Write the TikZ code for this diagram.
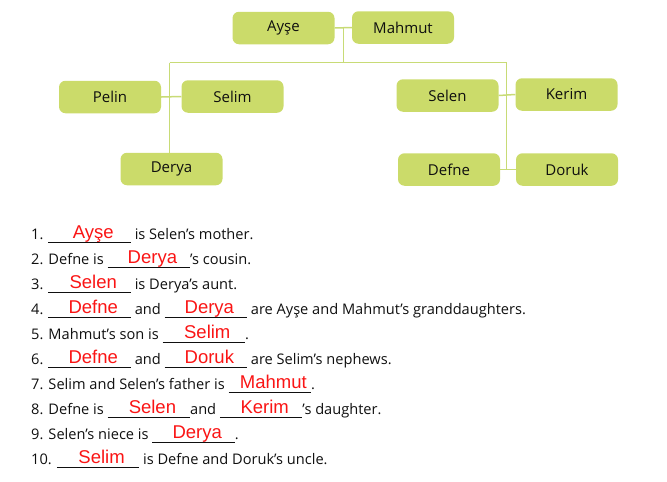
\documentclass[tikz,border=0pt]{standalone}
\usepackage{fontspec}
\setmainfont{Open Sans}
\newfontfamily\ansfont{Liberation Sans}
\usetikzlibrary{calc}
\definecolor{boxfill}{RGB}{203,219,106}
\definecolor{linecol}{RGB}{200,219,118}
\definecolor{txtcol}{RGB}{15,15,15}
\definecolor{ansred}{RGB}{250,20,20}
\newcommand\blank[1]{\makebox[0pt][l]{\rule[-3.6pt]{82.5pt}{0.9pt}}\makebox[82.5pt][c]{\hspace{7pt}\raisebox{0.6pt}{\ansfont\fontsize{18.5}{20}\selectfont\color{ansred}#1}}}
\tikzset{
  person/.style={draw=none, fill=boxfill, rounded corners=6.5pt, minimum width=102pt, minimum height=32.5pt, inner sep=0pt, text=txtcol, font=\fontsize{15}{17}\selectfont},
  link/.style={draw=linecol, line width=1.5pt},
  qline/.style={anchor=base west, inner sep=0pt, text=txtcol, font=\fontsize{14.6}{16}\selectfont}
}
\begin{document}
\begin{tikzpicture}[x=1pt,y=-1pt]
\useasboundingbox (0,0) rectangle (667,482);
% persons
\node[person] (ayse)   at (283.5,28)  {Ayşe};
\node[person] (mahmut) at (403,27.5)  {Mahmut};
\node[person] (pelin)  at (110,97)    {Pelin};
\node[person] (selim)  at (232.5,96.5){Selim};
\node[person] (selen)  at (447.5,95.5){Selen};
\node[person] (kerim)  at (566.5,94.5){Kerim};
\node[person] (derya)  at (171.5,169) {Derya};
\node[person] (defne)  at (449,169.5) {Defne};
\node[person] (doruk)  at (567,169.5) {Doruk};
% connectors
\coordinate (c0) at ($(ayse.east)!0.5!(mahmut.west)$);
\coordinate (hL) at (169.5,62.5);
\coordinate (hR) at (506.5,62.5);
\coordinate (dd) at ($(defne.east)!0.5!(doruk.west)$);
\draw[link] (ayse.east) -- (mahmut.west);
\draw[link] (c0) -- (c0 |- hL);
\draw[link] (hL) -- (hR);
\draw[link] (hL) -- (hL |- derya.north);
\draw[link] (pelin.east) -- (selim.west);
\draw[link] (selen.east) -- (kerim.west);
\draw[link] (defne.east) -- (doruk.west);
\draw[link] (hR) -- (hR |- dd);
% questions
\node[qline] (q1)  at (31,239.5) {1. \blank{Ayşe} is Selen’s mother.};
\node[qline] (q2)  at (31,264.5) {2. Defne is \blank{Derya}’s cousin.};
\node[qline] (q3)  at (31,289.5) {3. \blank{Selen} is Derya’s aunt.};
\node[qline] (q4)  at (31,314.5) {4. \blank{Defne} and \blank{Derya} are Ayşe and Mahmut’s granddaughters.};
\node[qline] (q5)  at (31,339.5) {5. Mahmut’s son is \blank{Selim}.};
\node[qline] (q6)  at (31,364.5) {6. \blank{Defne} and \blank{Doruk} are Selim’s nephews.};
\node[qline] (q7)  at (31,389.5) {7. Selim and Selen’s father is \blank{Mahmut}.};
\node[qline] (q8)  at (31,414.5) {8. Defne is \blank{Selen}and \blank{Kerim}’s daughter.};
\node[qline] (q9)  at (31,439.5) {9. Selen’s niece is \blank{Derya}.};
\node[qline] (q10) at (31,464.5) {10. \blank{Selim} is Defne and Doruk’s uncle.};
\end{tikzpicture}
\end{document}
